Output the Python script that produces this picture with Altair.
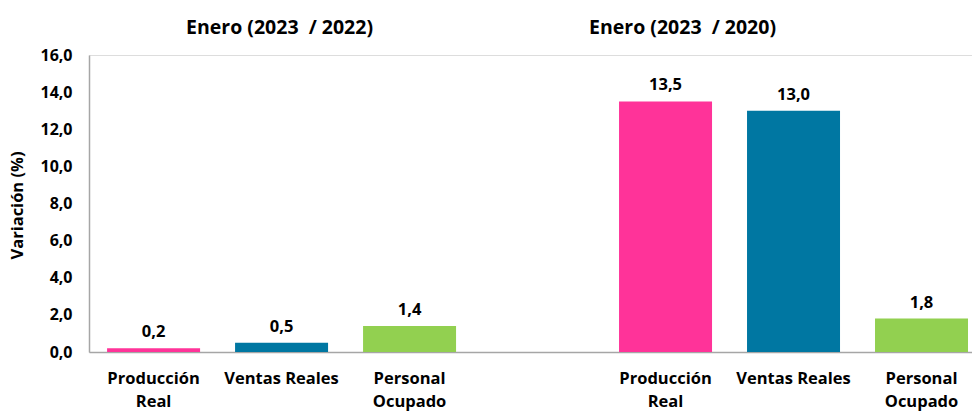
import altair as alt
import pandas as pd

slots = ["p1", "v1", "o1", "gap", "p2", "v2", "o2"]
slot_labels = {
    "p1": ["Producción", "Real"], "v1": ["Ventas Reales"], "o1": ["Personal", "Ocupado"],
    "gap": [""],
    "p2": ["Producción", "Real"], "v2": ["Ventas Reales"], "o2": ["Personal", "Ocupado"],
}
bar_slots = ["p1", "v1", "o1", "p2", "v2", "o2"]
values = [0.2, 0.5, 1.4, 13.5, 13.0, 1.8]
kinds = ["prod", "ventas", "personal", "prod", "ventas", "personal"]
kind_colors = {"prod": "#FF3399", "ventas": "#0077A2", "personal": "#92D050"}

titles = ["Enero (2023\u00a0\u00a0/ 2022)", "Enero (2023\u00a0\u00a0/ 2020)"]
title_slots = ["v1", "p2"]
title_dx = [-2, 17]

FONT = "Open Sans"

df = pd.DataFrame({
    "slot": bar_slots,
    "value": values,
    "kind": kinds,
    "label": [f"{v:.1f}".replace(".", ",") for v in values],
})

def js_list(lst):
    return "[" + ",".join("'" + s + "'" for s in lst) + "]"

label_expr = "{" + ",".join(f"'{k}':{js_list(v)}" for k, v in slot_labels.items()) + "}[datum.value]"

xscale = alt.Scale(domain=slots, paddingInner=0.273, paddingOuter=0.086, align=0.82)
x = alt.X("slot:N", scale=xscale, sort=slots, title=None,
          axis=alt.Axis(labelExpr=label_expr, labelAngle=0, ticks=False, domainColor="#A6A6A6",
                        domainWidth=1.5, labelFont=FONT, labelFontSize=16.5, labelFontWeight="bold",
                        labelColor="#000000", labelPadding=18, labelLineHeight=23,
                        labelBaseline="top", labelLimit=200))
y = alt.Y("value:Q", scale=alt.Scale(domain=[0, 16], nice=False),
          axis=alt.Axis(values=list(range(0, 17, 2)), grid=False, ticks=False,
                        domainColor="#A6A6A6", domainWidth=1.5, labelOverlap=False,
                        labelExpr="replace(format(datum.value, '.1f'), '.', ',')",
                        labelFont=FONT, labelFontSize=16, labelFontWeight="bold",
                        labelColor="#000000", labelPadding=17,
                        titleFont=FONT, titleFontSize=16.5,
                        titleFontWeight="bold", titleColor="#000000",
                        titleX=-72, titleY=150, titleAngle=-90, titleAlign="center",
                        titleBaseline="middle"),
          title="Variación (%)")

color = alt.Color("kind:N", scale=alt.Scale(domain=list(kind_colors.keys()),
                                            range=list(kind_colors.values())), legend=None)

bars = alt.Chart(df).mark_bar(size=93).encode(x=x, y=y, color=color)
labels = alt.Chart(df).mark_text(font=FONT, fontSize=16.5, fontWeight="bold", baseline="bottom",
                                 dy=-8, color="#000000").encode(x=x, y=y, text="label:N")

title_layers = []
for t, s, d in zip(titles, title_slots, title_dx):
    tdf = pd.DataFrame({"slot": [s], "title": [t]})
    title_layers.append(
        alt.Chart(tdf).mark_text(font=FONT, fontSize=19.5, fontWeight="bold", dx=d,
                                 baseline="middle", color="#000000").encode(
            x=x, y=alt.value(-27), text="title:N"))

chart = alt.layer(bars, labels, *title_layers).properties(
    width=883, height=297,
    autosize=alt.AutoSizeParams(type="none"),
    padding={"left": 89, "top": 55, "right": 0, "bottom": 61},
).configure_view(stroke=None).configure(background="white")

chart.save("out.html", embed_options={"renderer": "svg", "actions": False})
